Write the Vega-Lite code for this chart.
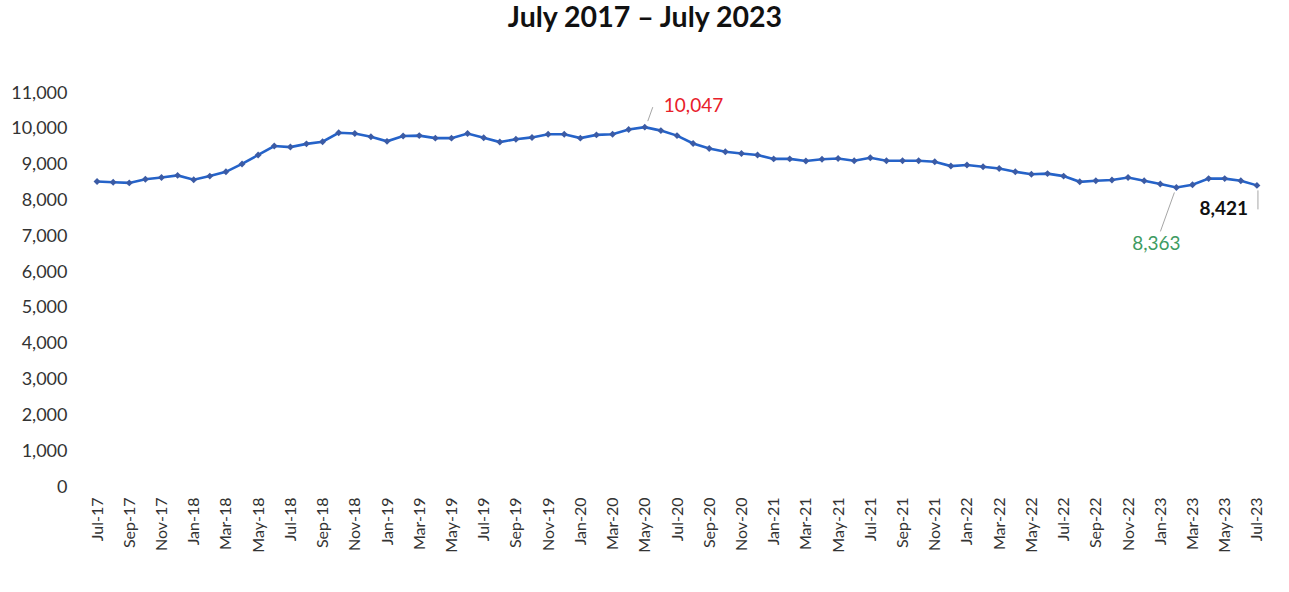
{
  "$schema": "https://vega.github.io/schema/vega-lite/v6.json",
  "width": 1176,
  "height": 394,
  "autosize": {"type": "none"},
  "padding": {"left": 89, "top": 93, "right": 24, "bottom": 105},
  "background": "white",
  "config": {"view": {"stroke": null}, "font": "Lato"},
  "title": {"text": "July 2017 – July 2023", "fontSize": 28.5, "fontWeight": "bold", "font": "Lato", "color": "#111111", "anchor": "middle", "dx": -32, "offset": 52},
  "data": {"values": [
    {"m": "Jul-17", "v": 8530}, {"m": "Aug-17", "v": 8510}, {"m": "Sep-17", "v": 8490}, {"m": "Oct-17", "v": 8590}, {"m": "Nov-17", "v": 8640}, {"m": "Dec-17", "v": 8700},
    {"m": "Jan-18", "v": 8580}, {"m": "Feb-18", "v": 8680}, {"m": "Mar-18", "v": 8800}, {"m": "Apr-18", "v": 9020}, {"m": "May-18", "v": 9270}, {"m": "Jun-18", "v": 9520},
    {"m": "Jul-18", "v": 9490}, {"m": "Aug-18", "v": 9580}, {"m": "Sep-18", "v": 9640}, {"m": "Oct-18", "v": 9890}, {"m": "Nov-18", "v": 9870}, {"m": "Dec-18", "v": 9780},
    {"m": "Jan-19", "v": 9650}, {"m": "Feb-19", "v": 9800}, {"m": "Mar-19", "v": 9810}, {"m": "Apr-19", "v": 9740}, {"m": "May-19", "v": 9740}, {"m": "Jun-19", "v": 9870},
    {"m": "Jul-19", "v": 9750}, {"m": "Aug-19", "v": 9630}, {"m": "Sep-19", "v": 9710}, {"m": "Oct-19", "v": 9760}, {"m": "Nov-19", "v": 9850}, {"m": "Dec-19", "v": 9850},
    {"m": "Jan-20", "v": 9740}, {"m": "Feb-20", "v": 9830}, {"m": "Mar-20", "v": 9850}, {"m": "Apr-20", "v": 9980}, {"m": "May-20", "v": 10047}, {"m": "Jun-20", "v": 9950},
    {"m": "Jul-20", "v": 9810}, {"m": "Aug-20", "v": 9590}, {"m": "Sep-20", "v": 9450}, {"m": "Oct-20", "v": 9360}, {"m": "Nov-20", "v": 9310}, {"m": "Dec-20", "v": 9270},
    {"m": "Jan-21", "v": 9160}, {"m": "Feb-21", "v": 9160}, {"m": "Mar-21", "v": 9100}, {"m": "Apr-21", "v": 9150}, {"m": "May-21", "v": 9170}, {"m": "Jun-21", "v": 9110},
    {"m": "Jul-21", "v": 9190}, {"m": "Aug-21", "v": 9110}, {"m": "Sep-21", "v": 9110}, {"m": "Oct-21", "v": 9110}, {"m": "Nov-21", "v": 9080}, {"m": "Dec-21", "v": 8960},
    {"m": "Jan-22", "v": 8990}, {"m": "Feb-22", "v": 8940}, {"m": "Mar-22", "v": 8890}, {"m": "Apr-22", "v": 8800}, {"m": "May-22", "v": 8730}, {"m": "Jun-22", "v": 8750},
    {"m": "Jul-22", "v": 8680}, {"m": "Aug-22", "v": 8520}, {"m": "Sep-22", "v": 8550}, {"m": "Oct-22", "v": 8570}, {"m": "Nov-22", "v": 8640}, {"m": "Dec-22", "v": 8550},
    {"m": "Jan-23", "v": 8460}, {"m": "Feb-23", "v": 8363}, {"m": "Mar-23", "v": 8440}, {"m": "Apr-23", "v": 8610}, {"m": "May-23", "v": 8610}, {"m": "Jun-23", "v": 8550},
    {"m": "Jul-23", "v": 8421}
  ]},
  "encoding": {
    "x": {
      "field": "m", "type": "ordinal", "sort": null,
      "scale": {"type": "point", "padding": 0.5},
      "axis": {
        "title": null, "domain": false, "ticks": false, "grid": false,
        "labelAngle": -90, "labelFontSize": 16, "labelFont": "Lato", "labelColor": "#333333", "labelPadding": 10,
        "values": ["Jul-17","Sep-17","Nov-17","Jan-18","Mar-18","May-18","Jul-18","Sep-18","Nov-18","Jan-19","Mar-19","May-19","Jul-19","Sep-19","Nov-19","Jan-20","Mar-20","May-20","Jul-20","Sep-20","Nov-20","Jan-21","Mar-21","May-21","Jul-21","Sep-21","Nov-21","Jan-22","Mar-22","May-22","Jul-22","Sep-22","Nov-22","Jan-23","Mar-23","May-23","Jul-23"]
      }
    },
    "y": {
      "field": "v", "type": "quantitative",
      "scale": {"domain": [0, 11000], "nice": false},
      "axis": {
        "title": null, "domain": false, "ticks": false, "grid": false,
        "values": [0,1000,2000,3000,4000,5000,6000,7000,8000,9000,10000,11000],
        "format": ",d", "labelFontSize": 18, "labelFont": "Lato", "labelColor": "#333333", "labelPadding": 22
      }
    }
  },
  "layer": [
    {"mark": {"type": "line", "color": "#2563C9", "strokeWidth": 2.6}},
    {"mark": {"type": "point", "filled": true, "shape": "diamond", "size": 48, "color": "#3B5BA5", "opacity": 1}},
    {
      "transform": [{"filter": "datum.m === 'May-20'"}],
      "mark": {"type": "rule", "color": "#A6A6A6", "strokeWidth": 1, "xOffset": 3, "yOffset": -6, "x2Offset": 8, "y2Offset": -20},
      "encoding": {"x2": {"field": "m"}, "y2": {"field": "v"}}
    },
    {
      "transform": [{"filter": "datum.m === 'Feb-23'"}],
      "mark": {"type": "rule", "color": "#A6A6A6", "strokeWidth": 1, "xOffset": -2, "yOffset": 5, "x2Offset": -16, "y2Offset": 44},
      "encoding": {"x2": {"field": "m"}, "y2": {"field": "v"}}
    },
    {
      "transform": [{"filter": "datum.m === 'Jul-23'"}],
      "mark": {"type": "rule", "color": "#A6A6A6", "strokeWidth": 1, "xOffset": 1, "yOffset": 5, "x2Offset": 1, "y2Offset": 24},
      "encoding": {"x2": {"field": "m"}, "y2": {"field": "v"}}
    },
    {
      "transform": [{"filter": "datum.m === 'May-20'"}],
      "mark": {"type": "text", "align": "left", "baseline": "middle", "dx": 19, "dy": -21, "fontSize": 19, "font": "Lato", "color": "#E8202A"},
      "encoding": {"text": {"field": "v", "type": "quantitative", "format": ","}}
    },
    {
      "transform": [{"filter": "datum.m === 'Feb-23'"}],
      "mark": {"type": "text", "align": "center", "baseline": "middle", "dx": -20, "dy": 57, "fontSize": 19, "font": "Lato", "color": "#3E9B62"},
      "encoding": {"text": {"field": "v", "type": "quantitative", "format": ","}}
    },
    {
      "transform": [{"filter": "datum.m === 'Jul-23'"}],
      "mark": {"type": "text", "align": "right", "baseline": "middle", "dx": -9, "dy": 24, "fontSize": 19, "font": "Lato", "fontWeight": "bold", "color": "#111111"},
      "encoding": {"text": {"field": "v", "type": "quantitative", "format": ","}}
    }
  ]
}
